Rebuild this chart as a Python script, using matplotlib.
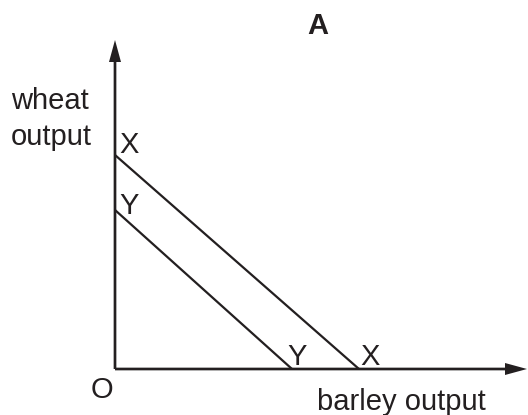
import matplotlib
matplotlib.use("Agg")
import matplotlib.pyplot as plt

# diagram coordinates: pixels measured from the origin O
x_axis_len = 412
y_axis_len = 329

line_x_barley = [0, 244]
line_x_wheat = [214, 0]
line_y_barley = [0, 177]
line_y_wheat = [159, 0]

plt.rcParams['font.family'] = ['Liberation Sans', 'DejaVu Sans']

fig = plt.figure(figsize=(5.28, 4.15), dpi=100)
ax = fig.add_axes([0, 0, 1, 1])
ax.set_xlim(-115, 413)
ax.set_ylim(-46, 369)
ax.axis('off')

# axes with arrow heads
ax.arrow(0, 0, 0, y_axis_len, width=2.7, head_width=12, head_length=22,
         length_includes_head=True, fc='#231f20', ec='none')
ax.arrow(0, 0, x_axis_len, 0, width=2.7, head_width=12, head_length=22,
         length_includes_head=True, fc='#231f20', ec='none')

ax.plot(line_x_barley, line_x_wheat, color='#231f20', lw=1.6, solid_capstyle='butt')
ax.plot(line_y_barley, line_y_wheat, color='#231f20', lw=1.6, solid_capstyle='butt')

fs = 21
tc = '#231f20'
ax.text(203, 343, 'A', fontsize=fs, fontweight='bold', ha='center', va='center', color=tc)
ax.text(-104, 260, 'wheat', fontsize=fs, ha='left', va='baseline', color=tc)
ax.text(-104, 224, 'output', fontsize=fs, ha='left', va='baseline', color=tc)
ax.text(4, 216, 'X', fontsize=fs, ha='left', va='baseline', color=tc)
ax.text(4, 155, 'Y', fontsize=fs, ha='left', va='baseline', color=tc)
ax.text(172, 4, 'Y', fontsize=fs, ha='left', va='baseline', color=tc)
ax.text(245, 4, 'X', fontsize=fs, ha='left', va='baseline', color=tc)
ax.text(-24, -29, 'O', fontsize=fs, ha='left', va='baseline', color=tc)
ax.text(202, -41, 'barley output', fontsize=fs, ha='left', va='baseline', color=tc)

fig.savefig('out.png', dpi=100)
